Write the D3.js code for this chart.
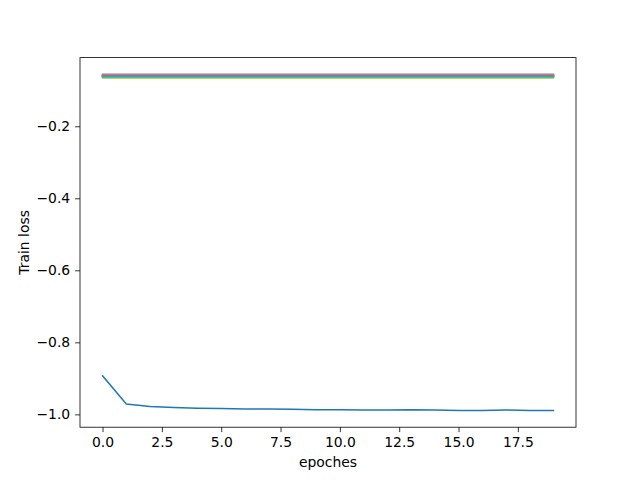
<!DOCTYPE html>
<html>
<head>
<meta charset="utf-8">
<script src="https://cdn.jsdelivr.net/npm/d3@7"></script>
<style>
  body { margin: 0; background: #fff; }
  text { font-family: "DejaVu Sans", sans-serif; }
</style>
</head>
<body>
<div id="chart"></div>
<script>
// epochs on the x axis
var epochs = d3.range(0, 20);

// main run (blue)
var lossMain = [-0.893, -0.971, -0.978, -0.981, -0.983, -0.984, -0.985, -0.985, -0.986, -0.987,
                -0.987, -0.988, -0.988, -0.987, -0.988, -0.989, -0.989, -0.988, -0.989, -0.989];

// the other runs are flat bands near the top
var flatLevels = [-0.060, -0.062, -0.061, -0.056, -0.0565, -0.058, -0.0595, -0.066, -0.063];

var colors = ["#1f77b4", "#ff7f0e", "#2ca02c", "#d62728", "#9467bd",
              "#8c564b", "#e377c2", "#7f7f7f", "#bcbd22", "#17becf"];

var xTicks = [0, 2.5, 5, 7.5, 10, 12.5, 15, 17.5];
var yTicks = [-1.0, -0.8, -0.6, -0.4, -0.2];

var series = [lossMain].concat(flatLevels.map(function(v) {
    return epochs.map(function() { return v; });
}));

// set the dimensions and margins of the graph
var W = 640, H = 480;
var margin = {top: 57.6, right: 64, bottom: 52.8, left: 80};
var width = W - margin.left - margin.right,
    height = H - margin.top - margin.bottom;

var svg = d3.select("#chart")
    .append("svg")
    .attr("width", W)
    .attr("height", H)
    .append("g")
    .attr("transform", "translate(" + margin.left + "," + margin.top + ")");

// matplotlib style 5% padding
var xmin = d3.min(epochs), xmax = d3.max(epochs);
var xpad = (xmax - xmin) * 0.05;
var allY = d3.merge(series);
var ymin = d3.min(allY), ymax = d3.max(allY);
var ypad = (ymax - ymin) * 0.05;

var x = d3.scaleLinear()
    .domain([xmin - xpad, xmax + xpad])
    .range([0, width]);

var y = d3.scaleLinear()
    .domain([ymin - ypad, ymax + ypad])
    .range([height, 0]);

var line = d3.line()
    .x(function(d, i) { return x(epochs[i]); })
    .y(function(d) { return y(d); });

series.forEach(function(s, i) {
    svg.append("path")
        .datum(s)
        .attr("fill", "none")
        .attr("stroke", colors[i])
        .attr("stroke-width", 1.5)
        .attr("stroke-linejoin", "round")
        .attr("stroke-linecap", "square")
        .attr("d", line);
});

var fmt = function(d) { return d3.format(".1f")(d).replace("-", "\u2212"); };

var xAxis = d3.axisBottom(x).tickValues(xTicks).tickFormat(fmt)
    .tickSize(4.9).tickPadding(4.9);
var yAxis = d3.axisLeft(y).tickValues(yTicks).tickFormat(fmt)
    .tickSize(4.9).tickPadding(4.9);

var gx = svg.append("g")
    .attr("transform", "translate(0," + height + ")")
    .call(xAxis);
var gy = svg.append("g").call(yAxis);

[gx, gy].forEach(function(g) {
    g.select(".domain").remove();
    g.selectAll("line").attr("stroke", "#000").attr("stroke-width", 0.8);
    g.selectAll("text").attr("fill", "#000").style("font-size", "13.9px");
});

// frame
svg.append("rect")
    .attr("width", width)
    .attr("height", height)
    .attr("fill", "none")
    .attr("stroke", "#000")
    .attr("stroke-width", 0.8);

// axis labels
svg.append("text")
    .attr("x", width / 2)
    .attr("y", height + 40)
    .attr("text-anchor", "middle")
    .style("font-size", "13.9px")
    .text("epoches");

svg.append("text")
    .attr("transform", "translate(" + (-51) + "," + (height / 2) + ") rotate(-90)")
    .attr("text-anchor", "middle")
    .style("font-size", "13.9px")
    .text("Train loss");
</script>
</body>
</html>
